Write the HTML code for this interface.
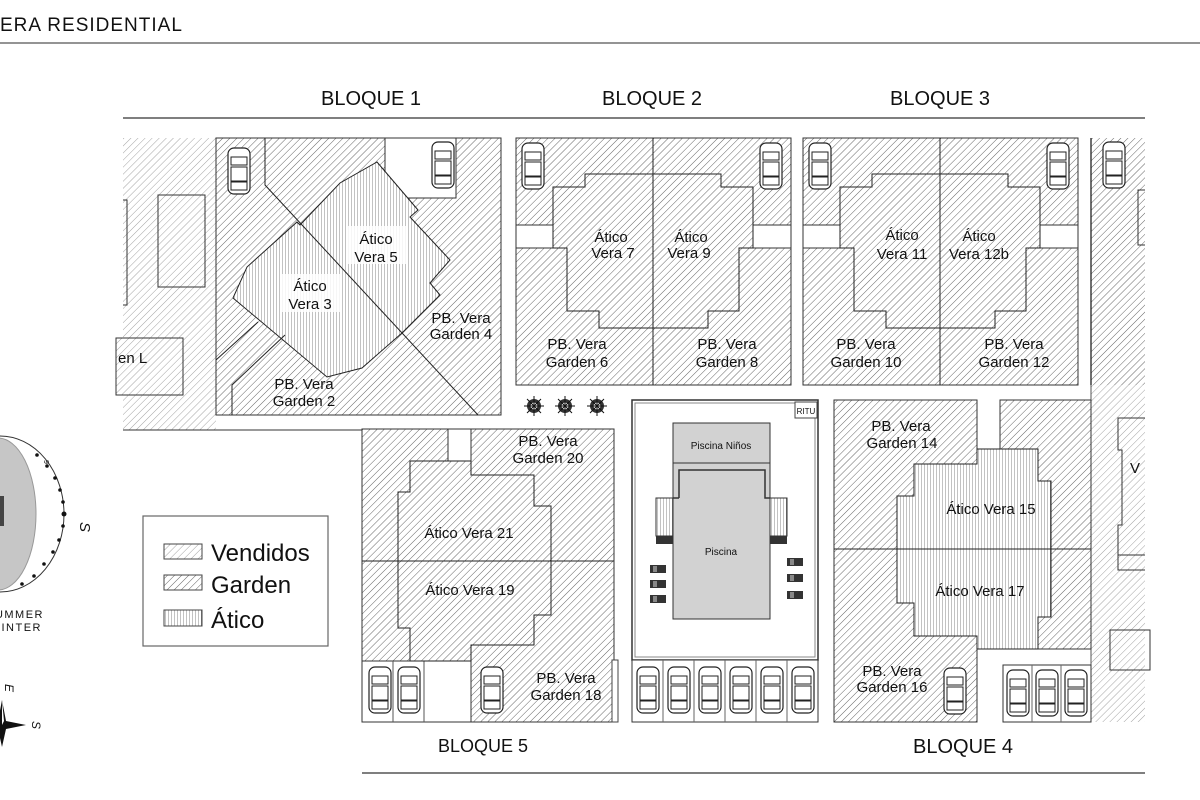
<!DOCTYPE html>
<html><head><meta charset="utf-8"><style>
html,body{margin:0;padding:0;background:#fff;}
svg{display:block;}
text{font-family:"Liberation Sans",sans-serif;fill:#111;}
</style></head><body>
<svg width="1200" height="800" viewBox="0 0 1200 800" xmlns="http://www.w3.org/2000/svg">
<defs>
<pattern id="g" width="5" height="5" patternUnits="userSpaceOnUse" patternTransform="rotate(45)">
<rect width="5" height="5" fill="#fff"/><line x1="0" y1="0" x2="0" y2="5" stroke="#555" stroke-width="0.9"/></pattern>
<pattern id="v" width="5" height="5" patternUnits="userSpaceOnUse" patternTransform="rotate(45)">
<rect width="5" height="5" fill="#fff"/><line x1="0" y1="0" x2="0" y2="5" stroke="#999" stroke-width="0.9"/></pattern>
<pattern id="a" width="3" height="3" patternUnits="userSpaceOnUse">
<rect width="3" height="3" fill="#fff"/><line x1="0" y1="0" x2="0" y2="3" stroke="#666" stroke-width="0.8"/></pattern>
<g id="car">
<rect x="0" y="0" width="22" height="46" rx="6" fill="#fff" stroke="#222" stroke-width="1.2"/>
<rect x="3" y="9" width="16" height="8" fill="none" stroke="#222"/>
<rect x="3" y="19" width="16" height="14" fill="none" stroke="#222"/>
<rect x="3" y="34" width="16" height="8" fill="none" stroke="#222"/>
</g>
<g id="tree"><circle r="7" fill="#333"/><circle r="4" fill="#fff" stroke="#222"/><path d="M-10 0H10M0-10V10M-7-7L7 7M-7 7L7-7" stroke="#111"/></g>
<g id="chair"><rect x="0" y="0" width="16" height="8" fill="#333"/><rect x="3" y="1" width="4" height="6" fill="#888"/></g>
</defs>

<text x="0" y="31" font-size="19" letter-spacing="1">ERA RESIDENTIAL</text>
<line x1="0" y1="43" x2="1200" y2="43" stroke="#555" stroke-width="1.2"/>
<text x="321" y="105" font-size="20">BLOQUE 1</text>
<text x="602" y="105" font-size="20">BLOQUE 2</text>
<text x="890" y="105" font-size="20">BLOQUE 3</text>
<line x1="123" y1="118" x2="1145" y2="118" stroke="#333" stroke-width="1.2"/>

<rect x="123" y="138" width="93" height="292" fill="url(#v)"/>
<rect x="158" y="195" width="47" height="92" fill="url(#v)" stroke="#333"/>
<path d="M123 200H127V305H123" fill="none" stroke="#333"/>
<rect x="116" y="338" width="67" height="57" fill="url(#v)" stroke="#333"/>
<text x="118" y="363" font-size="15">en L</text>
<line x1="123" y1="430" x2="362" y2="430" stroke="#333"/>

<rect x="216" y="138" width="285" height="277" fill="url(#g)" stroke="#333"/>
<rect x="385" y="138" width="71" height="60" fill="#fff" stroke="#333"/>
<use href="#car" x="228" y="148"/>
<use href="#car" x="432" y="142"/>
<polygon points="377,162 418,210 410,217 450,260 430,283 440,295 402,333 362,368 327,377 233,298 247,267 297,222 300,225 340,183" fill="url(#a)" stroke="#222"/>
<polyline points="265,138 265,185 478,415" fill="none" stroke="#222"/>
<polyline points="232,415 232,385 285,335" fill="none" stroke="#222"/>
<polyline points="216,360 258,322" fill="none" stroke="#222"/>
<rect x="346" y="226" width="60" height="38" fill="#fff" opacity="0.85"/>
<text x="376" y="244" font-size="15" text-anchor="middle">Ático</text>
<text x="376" y="262" font-size="15" text-anchor="middle">Vera  5</text>
<rect x="280" y="274" width="60" height="38" fill="#fff" opacity="0.85"/>
<text x="310" y="291" font-size="15" text-anchor="middle">Ático</text>
<text x="310" y="309" font-size="15" text-anchor="middle">Vera  3</text>
<text x="461" y="323" font-size="15" text-anchor="middle">PB. Vera</text>
<text x="461" y="339" font-size="15" text-anchor="middle">Garden 4</text>
<text x="304" y="389" font-size="15" text-anchor="middle">PB. Vera</text>
<text x="304" y="406" font-size="15" text-anchor="middle">Garden 2</text>

<rect x="516" y="138" width="275" height="247" fill="url(#g)" stroke="#333"/>
<rect x="516" y="225" width="37" height="23" fill="#fff" stroke="#333"/>
<rect x="753" y="225" width="38" height="23" fill="#fff" stroke="#333"/>
<polygon points="585,174 721,174 721,187 753,187 753,248 739,248 739,311 708,311 708,328 599,328 599,311 567,311 567,248 553,248 553,187 585,187" fill="none" stroke="#222"/>
<line x1="653" y1="138" x2="653" y2="385" stroke="#222"/>
<use href="#car" x="522" y="143"/>
<use href="#car" x="760" y="143"/>
<text x="611" y="242" font-size="15" text-anchor="middle">Ático</text>
<text x="613" y="258" font-size="15" text-anchor="middle">Vera  7</text>
<text x="691" y="242" font-size="15" text-anchor="middle">Ático</text>
<text x="689" y="258" font-size="15" text-anchor="middle">Vera  9</text>
<text x="577" y="349" font-size="15" text-anchor="middle">PB. Vera</text>
<text x="577" y="367" font-size="15" text-anchor="middle">Garden 6</text>
<text x="727" y="349" font-size="15" text-anchor="middle">PB. Vera</text>
<text x="727" y="367" font-size="15" text-anchor="middle">Garden 8</text>

<g transform="translate(287,0)">
<rect x="516" y="138" width="275" height="247" fill="url(#g)" stroke="#333"/>
<rect x="516" y="225" width="37" height="23" fill="#fff" stroke="#333"/>
<rect x="753" y="225" width="38" height="23" fill="#fff" stroke="#333"/>
<polygon points="585,174 721,174 721,187 753,187 753,248 739,248 739,311 708,311 708,328 599,328 599,311 567,311 567,248 553,248 553,187 585,187" fill="none" stroke="#222"/>
<line x1="653" y1="138" x2="653" y2="385" stroke="#222"/>
<use href="#car" x="522" y="143"/>
<use href="#car" x="760" y="143"/>
</g>
<text x="902" y="240" font-size="15" text-anchor="middle">Ático</text>
<text x="902" y="259" font-size="15" text-anchor="middle">Vera  11</text>
<text x="979" y="241" font-size="15" text-anchor="middle">Ático</text>
<text x="979" y="259" font-size="15" text-anchor="middle">Vera  12b</text>
<text x="866" y="349" font-size="15" text-anchor="middle">PB. Vera</text>
<text x="866" y="367" font-size="15" text-anchor="middle">Garden 10</text>
<text x="1014" y="349" font-size="15" text-anchor="middle">PB. Vera</text>
<text x="1014" y="367" font-size="15" text-anchor="middle">Garden 12</text>

<rect x="1091" y="138" width="54" height="247" fill="url(#g)"/>
<line x1="1091" y1="138" x2="1091" y2="385" stroke="#222" stroke-width="1.3"/>
<use href="#car" x="1103" y="142"/>
<path d="M1145 190H1138V245H1145" fill="none" stroke="#333"/>
<rect x="1091" y="385" width="54" height="337" fill="url(#v)"/>
<line x1="1091" y1="385" x2="1091" y2="722" stroke="#555"/>
<path d="M1145 418H1118V450H1122V525H1118V570H1145M1118 555H1145" fill="none" stroke="#333"/>
<rect x="1110" y="630" width="40" height="40" fill="none" stroke="#333"/>
<text x="1130" y="473" font-size="15">V</text>

<use href="#tree" x="534" y="406"/><use href="#tree" x="565" y="406"/><use href="#tree" x="597" y="406"/>

<rect x="362" y="429" width="252" height="293" fill="url(#g)" stroke="#333"/>
<rect x="448" y="429" width="23" height="32" fill="#fff" stroke="#333"/>
<rect x="362" y="661" width="109" height="61" fill="#fff" stroke="#333"/>
<line x1="393" y1="661" x2="393" y2="722" stroke="#555"/><line x1="424" y1="661" x2="424" y2="722" stroke="#555"/>
<polygon points="410,461 471,461 471,475 534,475 534,506 551,506 551,615 534,615 534,645 471,645 471,661 410,661 410,628 398,628 398,492 410,492" fill="none" stroke="#222"/>
<line x1="362" y1="561" x2="614" y2="561" stroke="#222"/>
<use href="#car" x="369" y="667"/><use href="#car" x="398" y="667"/><use href="#car" x="481" y="667"/>
<rect x="612" y="660" width="6" height="62" fill="#fff" stroke="#444"/>
<text x="548" y="446" font-size="15" text-anchor="middle">PB. Vera</text>
<text x="548" y="463" font-size="15" text-anchor="middle">Garden 20</text>
<text x="469" y="538" font-size="15" text-anchor="middle">Ático Vera  21</text>
<text x="470" y="595" font-size="15" text-anchor="middle">Ático Vera  19</text>
<text x="566" y="683" font-size="15" text-anchor="middle">PB. Vera</text>
<text x="566" y="700" font-size="15" text-anchor="middle">Garden 18</text>

<rect x="632" y="400" width="186" height="260" fill="#fff" stroke="#333" stroke-width="1.5"/>
<rect x="635" y="403" width="180" height="254" fill="none" stroke="#888"/>
<rect x="795" y="402" width="22" height="16" fill="#fff" stroke="#444"/>
<text x="806" y="414" font-size="8" text-anchor="middle">RITU</text>
<rect x="673" y="423" width="97" height="40" fill="#d2d2d2" stroke="#333"/>
<text x="721" y="449" font-size="10" text-anchor="middle">Piscina Niños</text>
<rect x="673" y="463" width="97" height="156" fill="#d2d2d2" stroke="#333"/>
<path d="M679 498V470H765V498H770" fill="none" stroke="#333" stroke-width="1.5"/>
<path d="M673 498H679" stroke="#333" stroke-width="1.5"/>
<rect x="656" y="498" width="17" height="38" fill="url(#a)" stroke="#333"/>
<rect x="656" y="536" width="17" height="8" fill="#333"/>
<rect x="770" y="498" width="17" height="38" fill="url(#a)" stroke="#333"/>
<rect x="770" y="536" width="17" height="8" fill="#333"/>
<text x="721" y="555" font-size="10" text-anchor="middle">Piscina</text>
<use href="#chair" x="650" y="565"/><use href="#chair" x="650" y="580"/><use href="#chair" x="650" y="595"/>
<use href="#chair" x="787" y="558"/><use href="#chair" x="787" y="574"/><use href="#chair" x="787" y="591"/>
<rect x="632" y="660" width="186" height="62" fill="#fff" stroke="#333"/>
<g stroke="#666"><line x1="663" y1="660" x2="663" y2="722"/><line x1="694" y1="660" x2="694" y2="722"/><line x1="725" y1="660" x2="725" y2="722"/><line x1="756" y1="660" x2="756" y2="722"/><line x1="787" y1="660" x2="787" y2="722"/></g>
<use href="#car" x="637" y="667"/><use href="#car" x="668" y="667"/><use href="#car" x="699" y="667"/><use href="#car" x="730" y="667"/><use href="#car" x="761" y="667"/><use href="#car" x="792" y="667"/>

<rect x="834" y="400" width="143" height="322" fill="url(#g)" stroke="#333"/>
<rect x="1000" y="400" width="91" height="249" fill="url(#g)" stroke="#333"/>
<polygon points="977,449 1038,449 1038,481 1051,481 1051,617 1038,617 1038,649 977,649 977,636 914,636 914,603 897,603 897,496 914,496 914,464 977,464" fill="url(#a)" stroke="#222"/>
<line x1="834" y1="549" x2="1091" y2="549" stroke="#222"/>
<rect x="1003" y="665" width="88" height="57" fill="#fff" stroke="#333"/>
<line x1="1032" y1="665" x2="1032" y2="722" stroke="#666"/><line x1="1061" y1="665" x2="1061" y2="722" stroke="#666"/>
<use href="#car" x="1007" y="670"/><use href="#car" x="1036" y="670"/><use href="#car" x="1065" y="670"/>
<use href="#car" x="944" y="668"/>
<text x="901" y="431" font-size="15" text-anchor="middle">PB. Vera</text>
<text x="902" y="448" font-size="15" text-anchor="middle">Garden 14</text>
<text x="991" y="514" font-size="15" text-anchor="middle">Ático Vera  15</text>
<text x="980" y="596" font-size="15" text-anchor="middle">Ático Vera  17</text>
<text x="892" y="676" font-size="15" text-anchor="middle">PB. Vera</text>
<text x="892" y="692" font-size="15" text-anchor="middle">Garden 16</text>

<text x="438" y="752" font-size="18" fill="#333">BLOQUE 5</text>
<text x="913" y="753" font-size="20">BLOQUE 4</text>
<line x1="362" y1="773" x2="1145" y2="773" stroke="#333" stroke-width="1.2"/>

<rect x="143" y="516" width="185" height="130" fill="#fff" stroke="#666" stroke-width="1.2"/>
<rect x="164" y="544" width="38" height="15" fill="url(#v)" stroke="#444"/>
<rect x="164" y="575" width="38" height="15" fill="url(#g)" stroke="#444"/>
<rect x="164" y="610" width="38" height="16" fill="url(#a)" stroke="#444"/>
<text x="211" y="561" font-size="24">Vendidos</text>
<text x="211" y="593" font-size="24">Garden</text>
<text x="211" y="628" font-size="24">Ático</text>

<ellipse cx="0" cy="514" rx="64" ry="78" fill="#fff" stroke="#333"/>
<ellipse cx="-2" cy="514" rx="38" ry="76" fill="#c6c6c6" stroke="#999"/>
<rect x="0" y="496" width="4" height="30" fill="#444"/>
<g fill="#111">
<circle cx="37" cy="455" r="1.8"/><circle cx="47" cy="466" r="1.8"/><circle cx="55" cy="478" r="1.8"/><circle cx="60" cy="490" r="1.8"/><circle cx="63" cy="502" r="1.8"/><circle cx="64" cy="514" r="2.5"/><circle cx="63" cy="526" r="1.8"/><circle cx="59" cy="540" r="1.8"/><circle cx="53" cy="552" r="1.8"/><circle cx="44" cy="564" r="1.8"/><circle cx="34" cy="576" r="1.8"/><circle cx="22" cy="584" r="1.8"/>
</g>
<text x="44" y="460" font-size="7" fill="#777" transform="rotate(90 44 460)">9</text>
<text x="85" y="517" font-size="15" font-style="italic" transform="rotate(90 80 517)">S</text>
<text x="44" y="618" font-size="11" letter-spacing="1.5" text-anchor="end" fill="#333">SUMMER</text>
<text x="42" y="631" font-size="11" letter-spacing="1.5" text-anchor="end" fill="#333">WINTER</text>
<g transform="translate(2,725)">
<path d="M0 -25 L4 -4 L24 0 L4 4 L0 22 L-4 4 L-24 0 L-4 -4Z" fill="#111"/>
<path d="M0 -25 L2 -4 L0 0Z" fill="#fff"/>
</g>
<text x="2" y="689" font-size="12" font-style="italic" transform="rotate(90 6 688)">E</text>
<text x="32" y="725" font-size="12" font-style="italic" transform="rotate(90 34 723)">S</text>
</svg>
</body></html>
